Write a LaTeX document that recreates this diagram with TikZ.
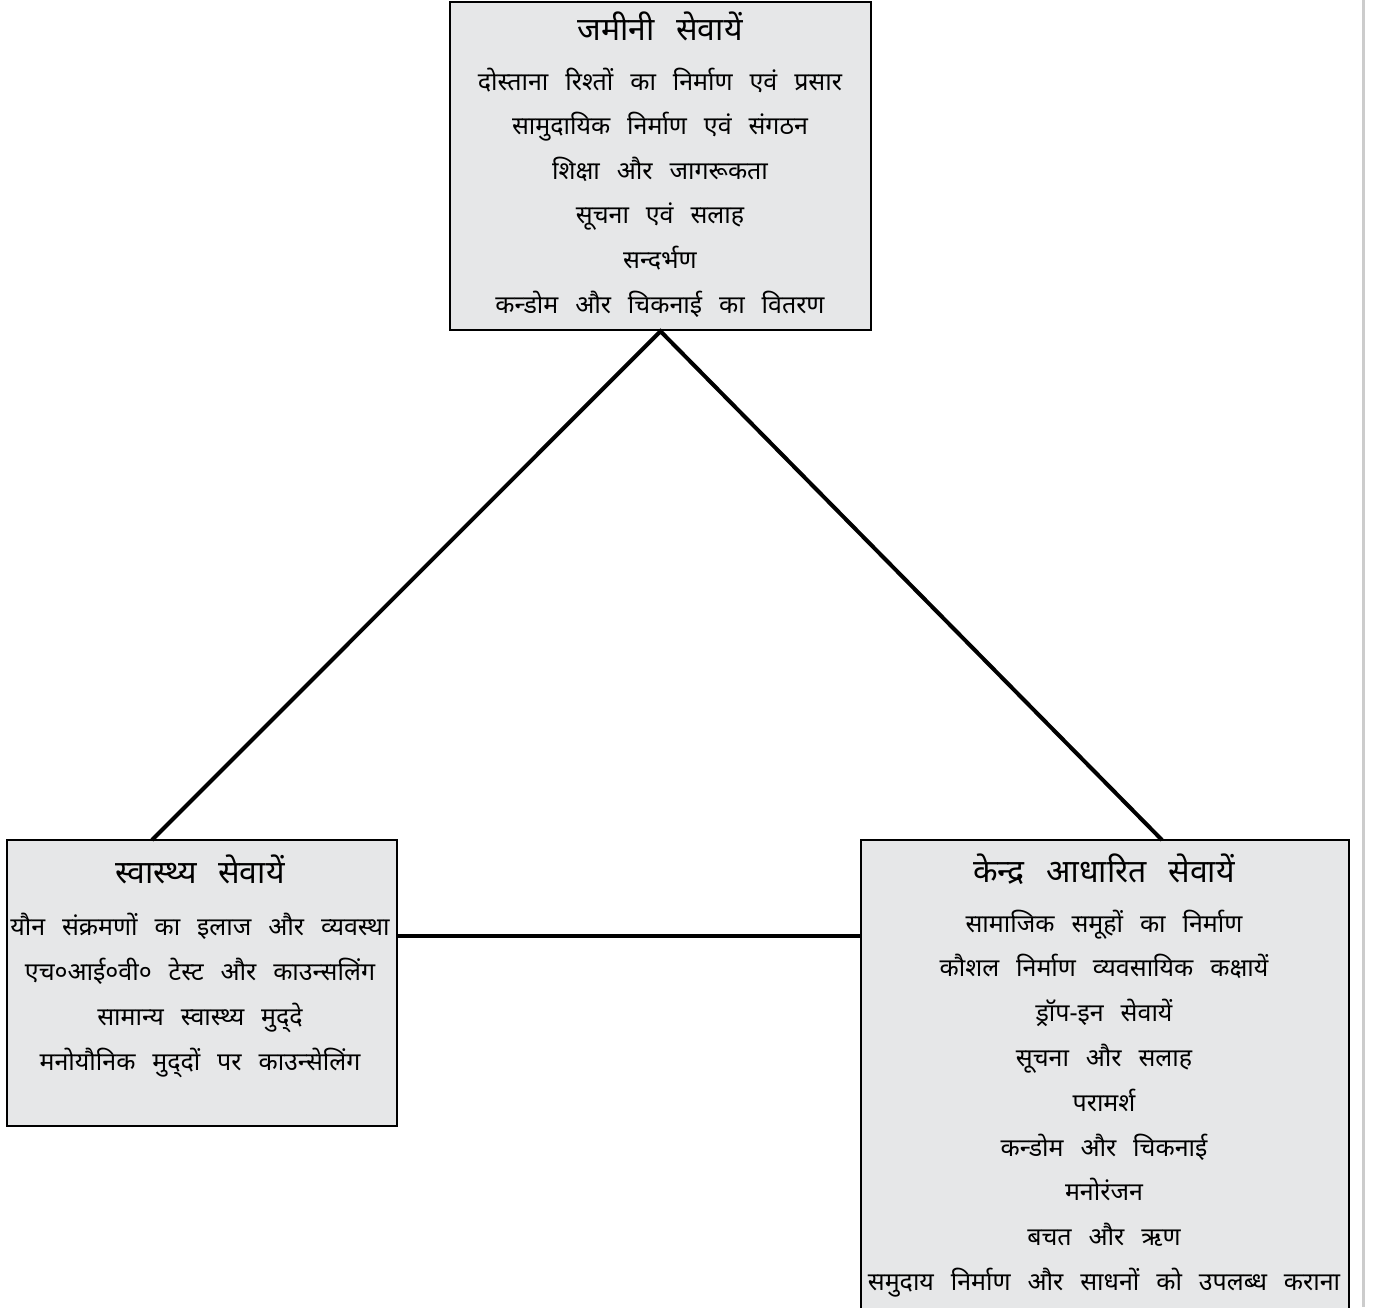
\documentclass[tikz,border=0pt]{standalone}
\usepackage{fontspec}
\newfontfamily\dev[Script=Devanagari, WordSpace=2.6]{Noto Sans}
\definecolor{boxgray}{HTML}{E6E7E8}
\definecolor{edgegray}{HTML}{CCCCCC}
\tikzset{
  box/.style={draw=black, line width=2.5pt, fill=boxgray, rectangle, inner sep=0pt},
  link/.style={line width=4pt},
  ttl/.style={font=\dev\fontsize{32}{38}\selectfont, anchor=base, inner sep=0pt},
  txt/.style={font=\dev\fontsize{25}{30}\selectfont, anchor=base, inner sep=0pt},
}
\begin{document}
\begin{tikzpicture}[x=1pt,y=-1pt]
\useasboundingbox (0,0) rectangle (1375,1307);
\clip (0,0) rectangle (1375,1307);
\fill[edgegray] (1361.5,0) rectangle (1364.5,1307);
% boxes
\node[box, minimum width=421pt, minimum height=328pt] (top) at (660.5,166) {};
\node[box, minimum width=390pt, minimum height=286pt] (left) at (202,983) {};
\node[box, minimum width=488pt, minimum height=480pt] (right) at (1105,1080) {};
% connectors
\coordinate (lt) at (152,840);
\coordinate (rt) at (1162,840);
\coordinate (hl) at (397,936);
\coordinate (hr) at (861,936);
\draw[link] (lt) -- (top.south) -- (rt);
\draw[link] (hl) -- (hr);
% top texts
\node[ttl] (tt) at (660,40) {जमीनी सेवायें};
\foreach \t [count=\i] in {दोस्ताना रिश्तों का निर्माण एवं प्रसार,
  सामुदायिक निर्माण एवं संगठन,
  शिक्षा और जागरूकता,
  सूचना एवं सलाह,
  सन्दर्भण,
  कन्डोम और चिकनाई का वितरण}
  \node[txt] (t\i) at (660,{90+44.6*(\i-1)}) {\t};
% left texts
\node[ttl] (lt0) at (200,883) {स्वास्थ्य सेवायें};
\foreach \t [count=\i] in {यौन संक्रमणों का इलाज और व्यवस्था,
  एच०आई०वी० टेस्ट और काउन्सलिंग,
  सामान्य स्वास्थ्य मुद्^^^^200cदे,
  मनोयौनिक मुद्^^^^200cदों पर काउन्सेलिंग}
  \node[txt] (l\i) at (200,{935+45*(\i-1)}) {\t};
% right texts
\node[ttl] (rt0) at (1104,882) {केन्द्र आधारित सेवायें};
\foreach \t [count=\i] in {सामाजिक समूहों का निर्माण,
  कौशल निर्माण व्यवसायिक कक्षायें,
  ड्रॉप-इन सेवायें,
  सूचना और सलाह,
  परामर्श,
  कन्डोम और चिकनाई,
  मनोरंजन,
  बचत और ऋण,
  समुदाय निर्माण और साधनों को उपलब्ध कराना}
  \node[txt] (r\i) at (1104,{932+44.8*(\i-1)}) {\t};
\end{tikzpicture}
\end{document}
